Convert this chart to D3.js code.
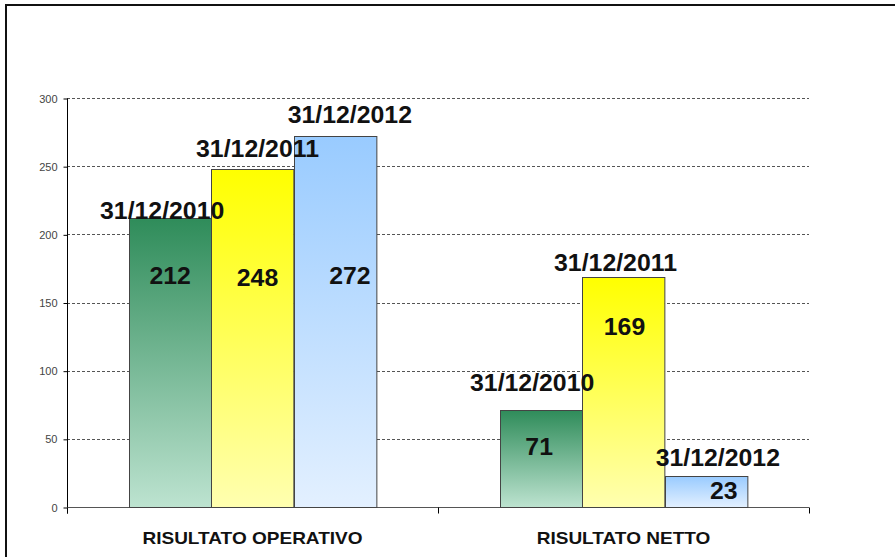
<!DOCTYPE html>
<html>
<head>
<meta charset="utf-8">
<script src="https://cdn.jsdelivr.net/npm/d3@7"></script>
<style>
  body { margin: 0; background: #fff; }
  text { font-family: Arial, "Liberation Sans", sans-serif; }
</style>
</head>
<body>
<div id="chart"></div>
<script>
const categories = ["RISULTATO OPERATIVO", "RISULTATO NETTO"]
const seriesNames = ["31/12/2010", "31/12/2011", "31/12/2012"]
const values2010 = [212, 71]
const values2011 = [248, 169]
const values2012 = [272, 23]
const yTicks = [0, 50, 100, 150, 200, 250, 300]

// excel labels were moved by hand, these are the nudges (px) per series/category
const nameNudge = [[[-8, 1], [-9, -19]], [[5, -12], [-8, -6]], [[15, -13], [12, -10]]]
const valueNudge = [[[0, 66], [-2, 45]], [[5, 117], [1, 58]], [[15, 148], [18, 23]]]

const gradients = [
    ["#2f8c5a", "#bde3d0"],
    ["#ffff00", "#ffffb0"],
    ["#99cbff", "#e3f0ff"]
]

const W = 895, H = 557
const margin = { left: 67, right: 86, top: 98, bottom: 50 }
// the original picture is a bit stretched sideways
const stretch = 1.08

const svg = d3.select("#chart").append("svg")
    .attr("width", W)
    .attr("height", H)

const defs = svg.append("defs")
gradients.forEach((g, i) => {
    const lg = defs.append("linearGradient")
        .attr("id", "grad" + i)
        .attr("x1", 0).attr("y1", 0).attr("x2", 0).attr("y2", 1)
    lg.append("stop").attr("offset", "0%").attr("stop-color", g[0])
    lg.append("stop").attr("offset", "100%").attr("stop-color", g[1])
})

// outer frame
svg.append("rect")
    .attr("x", 6).attr("y", 5)
    .attr("width", W + 10).attr("height", H + 10)
    .attr("fill", "none")
    .attr("stroke", "#111")
    .attr("stroke-width", 2)

const x0 = d3.scaleBand()
    .domain(categories)
    .range([margin.left, W - margin.right])
    .paddingInner(0.334)
    .paddingOuter(0.167)

const x1 = d3.scaleBand()
    .domain(seriesNames)
    .range([0, x0.bandwidth()])

const y = d3.scaleLinear()
    .domain([0, 300])
    .range([H - margin.bottom, margin.top])

// gridlines
svg.append("g")
    .selectAll("line")
    .data(yTicks.filter(d => d > 0))
    .enter().append("line")
    .attr("x1", margin.left)
    .attr("x2", W - margin.right)
    .attr("y1", d => Math.round(y(d)) + 0.5)
    .attr("y2", d => Math.round(y(d)) + 0.5)
    .attr("stroke", "#555")
    .attr("stroke-dasharray", "3,2")

// y axis
const yAxis = svg.append("g")
    .attr("transform", `translate(${margin.left + 0.5},0.5)`)
    .call(d3.axisLeft(y).tickValues(yTicks).tickSize(4).tickPadding(6))
yAxis.select(".domain").attr("d", `M0,${margin.top}V${H - margin.bottom + 6}`).attr("stroke", "#000")
yAxis.selectAll(".tick line").attr("stroke", "#000")
yAxis.selectAll(".tick text")
    .attr("font-size", 11)
    .attr("fill", "#444")
    .attr("font-family", "Arial, 'Liberation Sans', sans-serif")

// x axis
const xEdges = [margin.left, margin.left + (W - margin.left - margin.right) / 2, W - margin.right]
const xAxis = svg.append("g").attr("transform", `translate(0,${y(0) + 0.5})`)
xAxis.append("line")
    .attr("x1", margin.left).attr("x2", W - margin.right)
    .attr("stroke", "#555")
xAxis.selectAll(".sep")
    .data(xEdges)
    .enter().append("line")
    .attr("x1", d => Math.round(d) + 0.5).attr("x2", d => Math.round(d) + 0.5)
    .attr("y1", 0).attr("y2", 6)
    .attr("stroke", "#000")
xAxis.selectAll(".cat")
    .data(categories)
    .enter().append("text")
    .attr("transform", d => `translate(${x0(d) + x0.bandwidth() / 2},36) scale(1.12,1)`)
    .attr("text-anchor", "middle")
    .attr("font-size", 17)
    .attr("font-weight", "bold")
    .attr("fill", "#111")
    .text(d => d)

const allValues = [values2010, values2011, values2012]
const bars = []
allValues.forEach((vals, s) => {
    vals.forEach((v, c) => {
        bars.push({ s: s, c: c, name: seriesNames[s], cat: categories[c], value: v })
    })
})

svg.append("g")
    .selectAll("rect")
    .data(bars)
    .enter().append("rect")
    .attr("x", d => Math.round(x0(d.cat) + x1(d.name)) + 0.5)
    .attr("y", d => Math.round(y(d.value)) + 0.5)
    .attr("width", x1.bandwidth())
    .attr("height", d => Math.round(y(0)) - Math.round(y(d.value)))
    .attr("fill", d => `url(#grad${d.s})`)
    .attr("stroke", "#444")
    .attr("stroke-width", 1)

const cx = d => x0(d.cat) + x1(d.name) + x1.bandwidth() / 2

// series name labels
svg.append("g")
    .selectAll("text")
    .data(bars)
    .enter().append("text")
    .attr("transform", d => `translate(${cx(d) + nameNudge[d.s][d.c][0]},${y(d.value) + nameNudge[d.s][d.c][1]}) scale(${stretch},1)`)
    .attr("text-anchor", "middle")
    .attr("font-size", 23)
    .attr("font-weight", "bold")
    .attr("fill", "#111")
    .text(d => d.name)

// value labels
svg.append("g")
    .selectAll("text")
    .data(bars)
    .enter().append("text")
    .attr("transform", d => `translate(${cx(d) + valueNudge[d.s][d.c][0]},${y(d.value) + valueNudge[d.s][d.c][1]}) scale(${stretch},1)`)
    .attr("text-anchor", "middle")
    .attr("font-size", 23)
    .attr("font-weight", "bold")
    .attr("fill", "#111")
    .text(d => d.value)
</script>
</body>
</html>
